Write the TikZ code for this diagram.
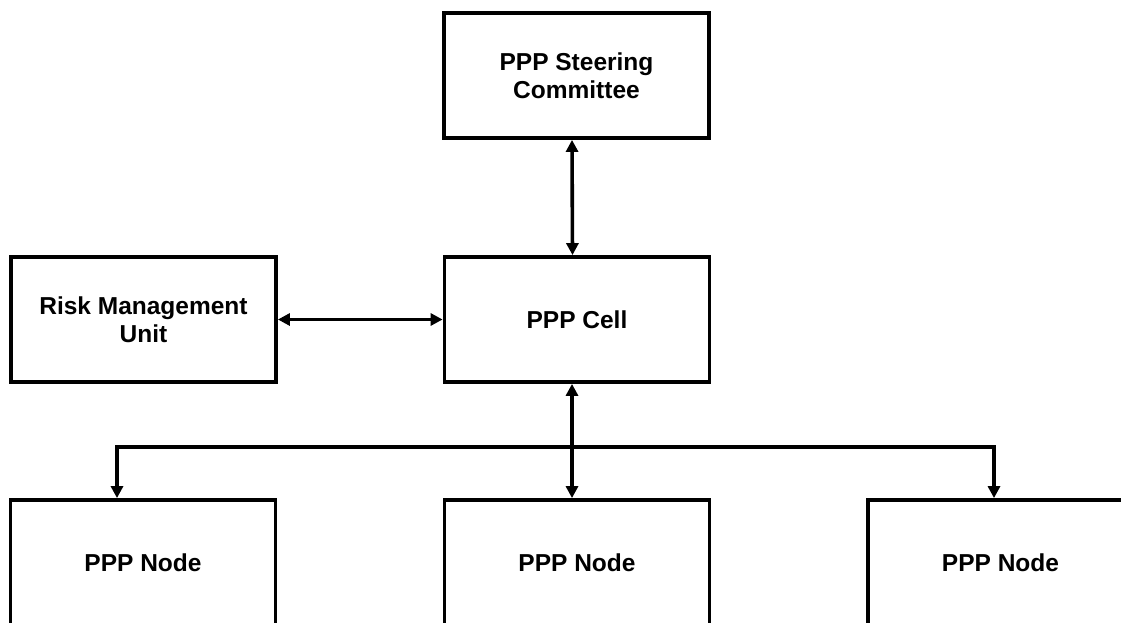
\documentclass[tikz,border=0pt]{standalone}
\usepackage{fontspec}
\setmainfont{Liberation Sans}
\usetikzlibrary{arrows.meta}
\begin{document}
\begin{tikzpicture}[x=1pt,y=-1pt,
  box/.style={draw, line width=3.8pt, minimum width=265pt, minimum height=125pt,
    inner sep=0pt, align=center, font=\fontsize{24.5}{28}\selectfont\bfseries},
  both/.style={line width=3.6pt, {Triangle[length=12pt,width=12pt]}-{Triangle[length=12pt,width=12pt]}},
  down/.style={line width=3.6pt, -{Triangle[length=12pt,width=12pt]}, line join=miter}]
\useasboundingbox (0,0) rectangle (1121,623);
\node[box] (steer) at (576.5,75.5) {PPP Steering\\Committee};
\node[box] (cell) at (577,319.5) {PPP Cell};
\node[box] (risk) at (143.5,319.5) {Risk Management\\Unit};
\node[box] (n1) at (143,562.5) {PPP Node};
\node[box] (n2) at (577,562.5) {PPP Node};
\node[box] (n3) at (1000.5,562.5) {PPP Node};
\coordinate (hl) at (117,447);
\coordinate (hm) at (572,447);
\coordinate (hr) at (994,447);
\draw[both] ([xshift=-4.5pt]cell.north) -- ([xshift=-4.5pt]steer.south);
\draw[both] (risk.east) -- (cell.west);
\draw[both] ([xshift=-5pt]cell.south) -- ([xshift=-5pt]n2.north);
\draw[down] (hm) -- (hl) -- (hl |- n1.north);
\draw[down] (hm) -- (hr) -- (hr |- n3.north);
\end{tikzpicture}
\end{document}
